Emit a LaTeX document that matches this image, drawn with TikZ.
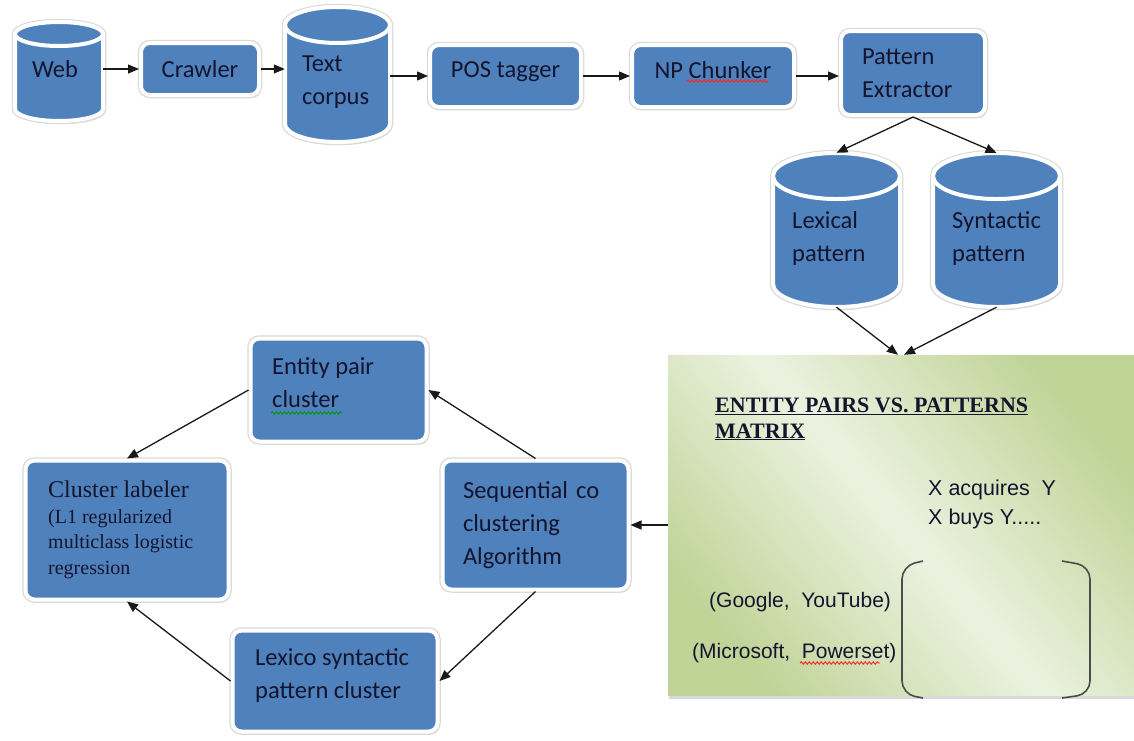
\documentclass[tikz,border=0pt]{standalone}
\usepackage{fontspec}
\setmainfont{Carlito}
\newfontfamily\timesf{Liberation Serif}
\newfontfamily\arialf{Liberation Sans}
\usetikzlibrary{arrows.meta,shadows,decorations.pathmorphing}

\definecolor{boxblue}{RGB}{79,129,189}
\definecolor{inkdark}{RGB}{20,20,45}
\definecolor{matdark}{RGB}{192,212,152}
\definecolor{matlight}{RGB}{236,242,224}

\tikzset{
  boxshade/.style={drop shadow={shadow xshift=2pt, shadow yshift=-3pt, opacity=.35, fill=black!45},
    preaction={draw=black!15, line width=6.5pt}},
  stepbox/.style={rectangle, rounded corners=9pt, boxshade, fill=boxblue, draw=white, line width=4pt,
    text=inkdark, font=\fontsize{24.5}{33}\selectfont, align=left},
  dbbody/.style={boxshade, fill=boxblue, draw=white, line width=4pt},
  dbtop/.style={fill=boxblue, draw=white, line width=4pt},
  dbbox/.style={rectangle, inner sep=0pt},
  dbtext/.style={anchor=west, text=inkdark, font=\fontsize{24.5}{33}\selectfont, align=left, inner sep=0pt},
  arr/.style={-{Triangle[length=11pt,width=9pt]}, line width=1.3pt, black!90},
  brk/.style={line width=1.6pt, black!70, rounded corners=13pt},
  squiggle/.style={decorate, decoration={snake, amplitude=1.2pt, segment length=4pt}, line width=0.9pt}
}

\begin{document}
\begin{tikzpicture}[x=1pt, y=-1pt]
\useasboundingbox (0,0) rectangle (1134,740);

% databases
\filldraw[dbbody] (15,34) -- (15,109) arc[start angle=180, end angle=360, x radius=44pt, y radius=12pt] -- (103,34) arc[start angle=0, end angle=180, x radius=44pt, y radius=12pt] -- cycle;
\filldraw[dbtop] (59,34) ellipse[x radius=44pt, y radius=12pt];
\node[dbbox, minimum width=88pt, minimum height=99pt] (web) at (59,71.5) {};
\node[dbtext, anchor=center] (webtxt) at (55,69) {Web};

\filldraw[dbbody] (285,25) -- (285,124) arc[start angle=180, end angle=360, x radius=52.5pt, y radius=18pt] -- (390,25) arc[start angle=0, end angle=180, x radius=52.5pt, y radius=18pt] -- cycle;
\filldraw[dbtop] (337.5,25) ellipse[x radius=52.5pt, y radius=18pt];
\node[dbbox, minimum width=105pt, minimum height=135pt] (corpus) at (337.5,74.5) {};
\node[dbtext] (corpustxt) at (302,82) {Text\\corpus};

\filldraw[dbbody] (773,176) -- (773,284) arc[start angle=180, end angle=360, x radius=63.5pt, y radius=23pt] -- (900,176) arc[start angle=0, end angle=180, x radius=63.5pt, y radius=23pt] -- cycle;
\filldraw[dbtop] (836.5,176) ellipse[x radius=63.5pt, y radius=23pt];
\node[dbbox, minimum width=127pt, minimum height=154pt] (lexical) at (836.5,230) {};
\node[dbtext] (lexicaltxt) at (792,238) {Lexical\\pattern};

\filldraw[dbbody] (933,176) -- (933,284) arc[start angle=180, end angle=360, x radius=63.5pt, y radius=23pt] -- (1060,176) arc[start angle=0, end angle=180, x radius=63.5pt, y radius=23pt] -- cycle;
\filldraw[dbtop] (996.5,176) ellipse[x radius=63.5pt, y radius=23pt];
\node[dbbox, minimum width=127pt, minimum height=154pt] (syntactic) at (996.5,230) {};
\node[dbtext] (syntactictxt) at (952,238) {Syntactic\\pattern};

% processing steps
\node[stepbox, minimum width=118pt, minimum height=52pt, align=center] (crawler) at (200,69) {Crawler};
\node[stepbox, minimum width=151pt, minimum height=62pt, align=center, text depth=13pt] (postag) at (505.5,76) {POS tagger};
\node[stepbox, minimum width=162pt, minimum height=62pt, align=center, text depth=13pt] (npchunk) at (713,76) {NP Chunker};
\node[stepbox, text width=102pt, inner xsep=21pt, minimum height=84pt] (patext) at (913,73) {Pattern\\Extractor};

% matrix
\fill[black!50, opacity=.3] (669,359) rectangle (1134,699);
\shade[top color=matdark, bottom color=matdark, middle color=matlight, shading angle=-50] (668,355) rectangle (1134,695);
\node[rectangle, minimum width=466pt, minimum height=340pt, inner sep=0pt] (matrix) at (901,525) {};
\node[anchor=base west, inner sep=0pt, align=left, text=inkdark, font=\timesf\bfseries\fontsize{22}{26}\selectfont] (mattitle) at (715,438)
  {\underline{ENTITY PAIRS VS. PATTERNS}\\\underline{MATRIX}};
\node[anchor=base west, inner sep=0pt, align=left, text=inkdark, font=\arialf\fontsize{21.5}{29}\selectfont] (patrow) at (928,524)
  {X acquires\ \ Y\\X buys Y.....};
\node[anchor=base west, inner sep=0pt, text=inkdark, font=\arialf\fontsize{21}{26}\selectfont] (pair1) at (709,607) {(Google,\ \ YouTube)};
\node[anchor=base west, inner sep=0pt, text=inkdark, font=\arialf\fontsize{21}{26}\selectfont] (pair2) at (692,658) {(Microsoft,\ \ Powerset)};
\draw[brk] (923,561) -- (902,566) -- (902,694) -- (923,698);
\draw[brk] (1062,561) -- (1090,566) -- (1090,694) -- (1062,698);

% clustering loop
\node[stepbox, minimum width=176pt, minimum height=103pt] (entity) at (338.5,390) {};
\node[dbtext] (entitytxt) at (272,383) {Entity pair\\cluster};
\node[stepbox, minimum width=203pt, minimum height=139pt] (labeler) at (127,530) {};
\node[dbtext, font=\timesf\fontsize{20}{25.5}\selectfont] (labelertxt) at (48,530)
  {{\fontsize{24}{27}\selectfont Cluster labeler}\\(L1 regularized\\multiclass logistic\\regression};
\node[stepbox, text width=145pt, inner xsep=20.5pt, minimum height=129pt] (seq) at (535.5,525) {Sequential co\\clustering\\Algorithm};
\node[stepbox, minimum width=205pt, minimum height=101pt] (lexico) at (335,681) {};
\node[dbtext] (lexicotxt) at (255,675) {Lexico syntactic\\pattern cluster};

% spelling marks
\draw[squiggle, red!85] (687,81) -- (768,81);
\draw[squiggle, red!85] (800,663) -- (880,663);
\draw[squiggle, green!60!black] (271,413) -- (342,413);

% connectors
\draw[arr] (web.east |- crawler.west) -- (crawler.west);
\draw[arr] (crawler.east) -- (corpus.west |- crawler.east);
\draw[arr] (corpus.east |- postag.west) -- (postag.west);
\draw[arr] (postag.east) -- (npchunk.west);
\draw[arr] (npchunk.east) -- (patext.west |- npchunk.east);
\draw[arr] (patext.south) -- (lexical.north);
\draw[arr] (patext.south) -- (syntactic.north);
\draw[arr] (lexical.south) -- ([xshift=-3pt]matrix.north);
\draw[arr] (syntactic.south) -- ([xshift=3pt]matrix.north);
\draw[arr] (matrix.west |- seq.east) -- (seq.east);
\draw[arr] (seq.north) -- (entity.east);
\draw[arr] (entity.west) -- (labeler.north);
\draw[arr] (seq.south) -- (lexico.east);
\draw[arr] (lexico.west) -- (labeler.south);
\end{tikzpicture}
\end{document}
